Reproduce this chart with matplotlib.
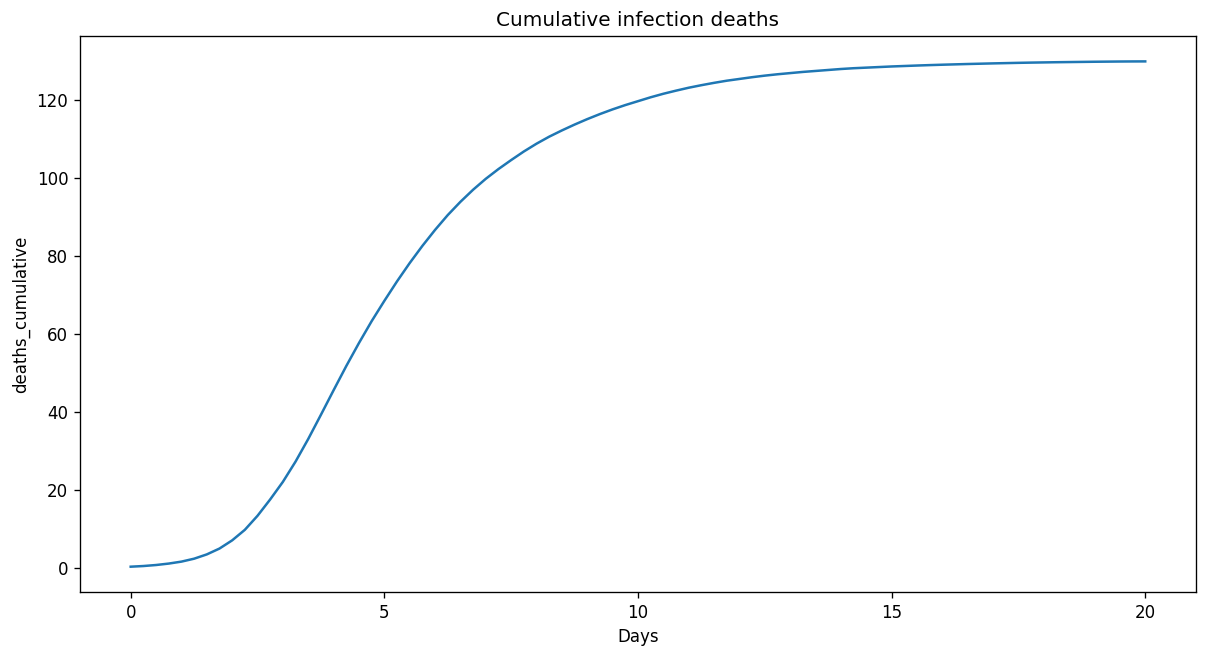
import matplotlib
matplotlib.use("Agg")
import matplotlib.pyplot as plt

# ── data (quarter-day steps) ─────────────────────────────────────────────
days = [0, 0.25, 0.5, 0.75, 1, 1.25, 1.5, 1.75, 2, 2.25, 2.5, 2.75,
        3, 3.25, 3.5, 3.75, 4, 4.25, 4.5, 4.75, 5, 5.25, 5.5, 5.75,
        6, 6.25, 6.5, 6.75, 7, 7.25, 7.5, 7.75, 8, 8.25, 8.5, 8.75,
        9, 9.25, 9.5, 9.75, 10, 10.25, 10.5, 10.75, 11, 11.25, 11.5, 11.75,
        12, 12.25, 12.5, 12.75, 13, 13.25, 13.5, 13.75, 14, 14.25, 14.5, 14.75,
        15, 15.25, 15.5, 15.75, 16, 16.25, 16.5, 16.75, 17, 17.25, 17.5, 17.75,
        18, 18.25, 18.5, 18.75, 19, 19.25, 19.5, 19.75, 20]
deaths_cumulative = [
    0.25, 0.42, 0.68, 1.05, 1.55, 2.3, 3.4, 4.9, 7.0, 9.7, 13.3, 17.5,
    22.0, 27.2, 33.0, 39.2, 45.5, 51.7, 57.6, 63.2, 68.4, 73.4, 78.1, 82.5,
    86.6, 90.4, 93.8, 96.9, 99.7, 102.2, 104.5, 106.7, 108.7, 110.5, 112.1, 113.6,
    115.0, 116.3, 117.5, 118.6, 119.6, 120.6, 121.5, 122.3, 123.05, 123.7, 124.3, 124.85,
    125.3, 125.75, 126.15, 126.5, 126.8, 127.1, 127.35, 127.6, 127.85, 128.05, 128.2, 128.35,
    128.5, 128.62, 128.74, 128.85, 128.95, 129.04, 129.13, 129.21, 129.29, 129.36, 129.43, 129.49,
    129.54, 129.59, 129.63, 129.67, 129.71, 129.74, 129.77, 129.79, 129.8]

fig, ax = plt.subplots(figsize=(10.067, 5.475), dpi=120)
fig.subplots_adjust(left=0.0662, right=0.990, top=0.945, bottom=0.099)

ax.plot(days, deaths_cumulative, color="#1f77b4", linewidth=1.5)
ax.set_title("Cumulative infection deaths")
ax.set_xlabel("Days")
ax.set_ylabel("deaths_cumulative")
ax.set_xticks([0, 5, 10, 15, 20])

plt.savefig("out.png", dpi=120)
